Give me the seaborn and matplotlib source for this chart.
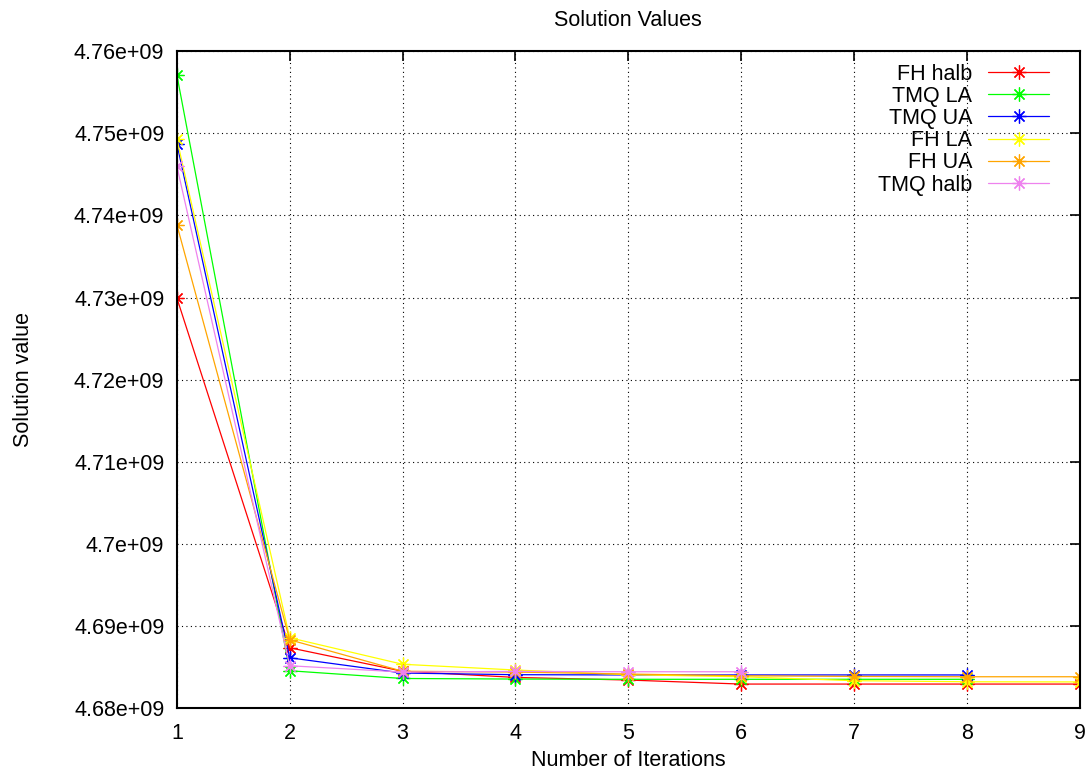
import matplotlib
matplotlib.use("Agg")
import matplotlib.pyplot as plt
import matplotlib.ticker as mticker
import seaborn as sns

# Solution value per iteration for each heuristic variant
iterations = [1, 2, 3, 4, 5, 6, 7, 8, 9]
fh_halb = [4.72995e9, 4.68736e9, 4.68450e9, 4.68375e9, 4.68343e9, 4.68294e9, 4.68294e9, 4.68294e9, 4.68294e9]
tmq_la = [4.75710e9, 4.68456e9, 4.68362e9, 4.68355e9, 4.68352e9, 4.68352e9, 4.68352e9, 4.68352e9]
tmq_ua = [4.74870e9, 4.68614e9, 4.68428e9, 4.68408e9, 4.68405e9, 4.68405e9, 4.68405e9, 4.68405e9]
fh_la = [4.74930e9, 4.68858e9, 4.68535e9, 4.68465e9, 4.68408e9, 4.68383e9, 4.68335e9, 4.68322e9, 4.68320e9]
fh_ua = [4.73886e9, 4.68833e9, 4.68450e9, 4.68440e9, 4.68416e9, 4.68395e9, 4.68387e9, 4.68383e9, 4.68383e9]
tmq_halb = [4.74600e9, 4.68517e9, 4.68440e9, 4.68448e9, 4.68444e9, 4.68444e9]

series_names = ["FH halb", "TMQ LA", "TMQ UA", "FH LA", "FH UA", "TMQ halb"]
series_values = [fh_halb, tmq_la, tmq_ua, fh_la, fh_ua, tmq_halb]
series_colors = ["#ff0000", "#00ff00", "#0000ff", "#ffff00", "#ffa500", "#ee82ee"]

x_ticks = [1, 2, 3, 4, 5, 6, 7, 8, 9]
y_ticks = [4.68e9, 4.69e9, 4.70e9, 4.71e9, 4.72e9, 4.73e9, 4.74e9, 4.75e9, 4.76e9]

sns.set_theme(style="white")
plt.rcParams["font.family"] = ["Liberation Sans", "DejaVu Sans"]
plt.rcParams["text.color"] = "black"
plt.rcParams["axes.labelcolor"] = "black"

fig = plt.figure(figsize=(10.85, 7.74), dpi=100)
ax = fig.add_axes([0.163, 0.085, 0.832, 0.849])

for name, vals, col in zip(series_names, series_values, series_colors):
    sns.lineplot(x=iterations[:len(vals)], y=vals, ax=ax, color=col, label=name,
                 linewidth=0.9, marker=(8, 2, 0), markersize=10,
                 markeredgewidth=0.9, markeredgecolor=col)

ax.set_xlim(1, 9)
ax.set_ylim(4.68e9, 4.76e9)
ax.set_xticks(x_ticks)
ax.set_yticks(y_ticks)
ax.yaxis.set_major_formatter(mticker.FuncFormatter(lambda v, p: "%g" % v))
ax.xaxis.set_major_formatter(mticker.FuncFormatter(lambda v, p: "%g" % v))

ax.grid(True, color="black", linestyle=(0, (1, 3)), linewidth=0.8)
ax.tick_params(axis="both", direction="in", length=7, width=1.2, colors="black",
               labelsize=15.5, top=True, right=True)
ax.tick_params(axis="x", pad=11)
ax.tick_params(axis="y", pad=9)
for sp in ax.spines.values():
    sp.set_color("black")
    sp.set_linewidth(1.5)

ax.set_title("Solution Values", fontsize=15.5, pad=18, color="black")
ax.set_xlabel("Number of Iterations", fontsize=15.5, labelpad=4, color="black")
ax.set_ylabel("Solution value", fontsize=15.5, labelpad=29, color="black")

leg = ax.legend(loc="upper right", bbox_to_anchor=(0.976, 0.994), frameon=False,
                markerfirst=False, fontsize=15.5, handlelength=2.85,
                labelspacing=0.055, handletextpad=0.72, borderaxespad=0.0)
for t in leg.get_texts():
    t.set_color("black")

fig.savefig("out.png", dpi=100)
